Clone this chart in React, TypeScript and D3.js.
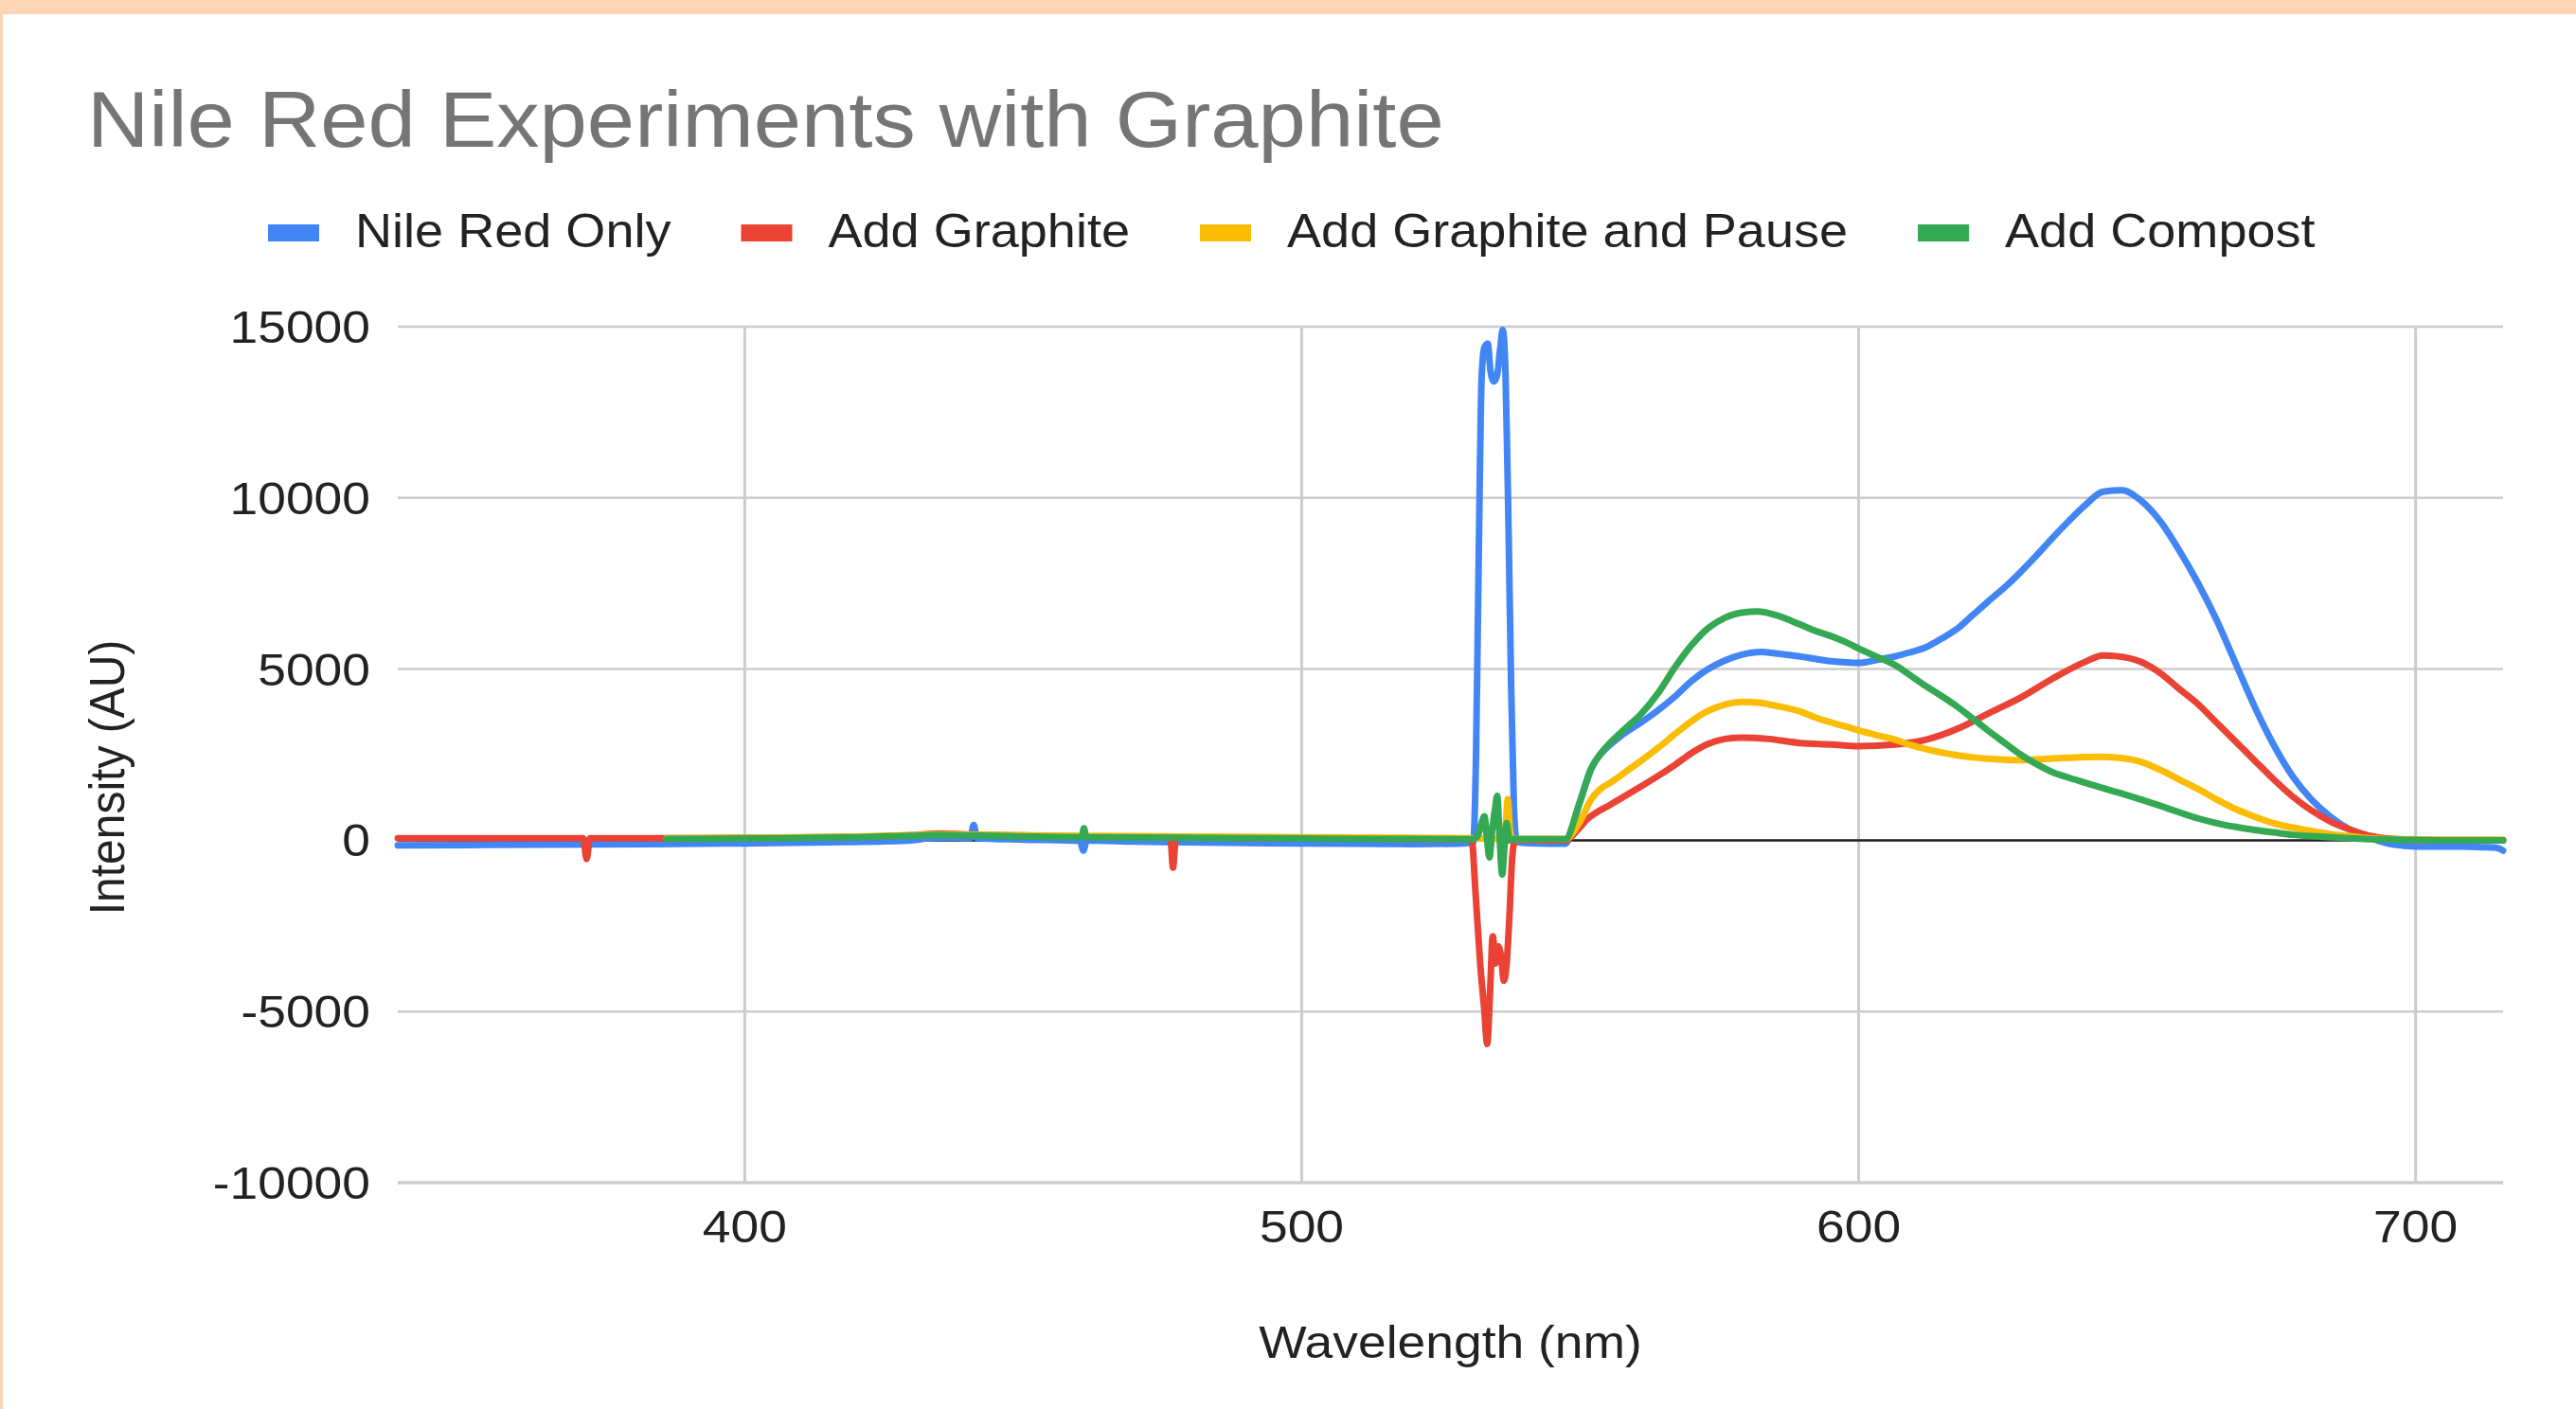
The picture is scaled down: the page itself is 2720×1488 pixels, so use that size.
import React from "react";
import * as d3 from "d3";

// ---------- data (wavelength nm, intensity AU) ----------
const seriesNames = ["Nile Red Only", "Add Graphite", "Add Graphite and Pause", "Add Compost"];
const seriesColors = ["#4285F4", "#EA4335", "#FBBC04", "#34A853"];
const xTickValues = [400, 500, 600, 700];
const yTickValues = [-10000, -5000, 0, 5000, 10000, 15000];
const yDomain = [-10000, 15000];

const nileRedOnly: [number, number][] = [
  [337.7, -150], [350, -140], [372, -120], [400, -90], [418, -50], [430, 0], [433, 60], [436, 80],
  [440.5, 60], [441.1, 450], [441.7, 60], [450, 20], [460.2, -20], [460.8, -300], [461.4, 0], [470, -40],
  [480, -60], [490, -80], [500, -90], [510, -100], [520, -110], [528, -100], [530.8, -50],
  [531.3, 2500], [531.8, 8500], [532.3, 13500], [532.8, 14400], [533.4, 14500], [533.9, 13700],
  [534.5, 13400], [535.1, 13600], [535.6, 14300], [536.1, 14900], [536.6, 13600], [537.1, 9500],
  [537.6, 4500], [538.1, 1000], [538.6, -50], [540, -80], [545, -100], [547.3, -100],
  [549.8, 1050], [552, 2100], [553.7, 2520], [555.4, 2790], [558, 3130], [561, 3450], [564, 3800],
  [567, 4200], [570, 4650], [573, 5000], [576, 5250], [579, 5420], [582.5, 5500],
  [585, 5460], [589.5, 5370], [595.1, 5230], [600, 5180], [603.6, 5280], [606.5, 5370], [609, 5480],
  [612.1, 5640], [615, 5900], [617.8, 6190], [620.5, 6580], [623.5, 7010], [626.5, 7430], [629.1, 7840],
  [632, 8330], [634.8, 8830], [637.7, 9320], [640.5, 9760], [643.9, 10180], [647.3, 10220], [650.7, 9920],
  [654.1, 9330], [657.5, 8480], [660.9, 7520], [664.3, 6420], [667.7, 5160], [671.1, 3900], [674.5, 2790],
  [677.9, 1870], [681.3, 1190], [684.7, 690], [688.1, 320], [691.5, 90], [694.9, -90], [698, -160],
  [700.3, -180], [704, -180], [708.5, -180], [712, -200], [714.5, -220], [715.7, -300],
];

const addGraphite: [number, number][] = [
  [337.7, 60], [350, 60], [360, 60], [371, 60], [371.6, -550], [372.2, 60], [385, 60], [400, 70],
  [420, 100], [430, 150], [435, 200], [440, 170], [450, 140], [460, 110], [470, 100], [476.4, 100],
  [476.9, -800], [477.4, 90], [490, 70], [500, 60], [510, 50], [520, 40], [530.5, 30],
  [531.2, -1500], [532, -3500], [532.8, -5000], [533.3, -5950], [533.8, -4500], [534.3, -2800],
  [534.8, -3600], [535.3, -3100], [535.8, -3400], [536.3, -4100], [536.8, -3600], [537.3, -2200],
  [537.8, -500], [538.3, 0], [540, 10], [545, 0], [547.5, 0],
  [549.5, 300], [551.5, 650], [553, 820], [555, 1000], [558, 1290], [561, 1580], [564, 1880],
  [567, 2200], [570, 2550], [573, 2820], [576, 2960], [579, 3000], [583.8, 2960], [589.5, 2840],
  [595.1, 2800], [600, 2750], [606.5, 2800], [612.1, 2940], [617.8, 3260], [623.5, 3720], [629.1, 4170],
  [634.8, 4720], [640.5, 5200], [643.9, 5400], [646.2, 5380], [650.7, 5210], [654.1, 4890], [657.5, 4430],
  [660.9, 3980], [664.3, 3430], [667.7, 2880], [671.1, 2330], [674.5, 1780], [677.9, 1280], [681.3, 870],
  [684.7, 550], [688.1, 320], [691.5, 140], [694.9, 50], [700, 10], [705, 0], [710, 0], [715.7, 0],
];

const addGraphitePause: [number, number][] = [
  [386, 60], [400, 70], [420, 110], [430, 150], [435, 170], [440, 160], [450, 140], [460, 130],
  [470, 120], [480, 110], [490, 100], [500, 90], [510, 80], [520, 70], [530, 60], [536.3, 40],
  [536.7, 600], [537.0, 1200], [537.4, 300], [537.8, 40], [545, 40], [547.3, 40],
  [549.8, 500], [552, 1200], [553.5, 1480], [555.4, 1680], [558, 1980], [561, 2330], [564, 2700],
  [567, 3100], [570, 3480], [573, 3780], [576, 3960], [579, 4040], [582, 4020], [585, 3930],
  [589.5, 3760], [592, 3600], [595.1, 3440], [597.5, 3330], [600, 3210], [603, 3080],
  [606.5, 2940], [609, 2800], [612.1, 2660], [615, 2560], [617.8, 2480], [620.5, 2420], [623.5, 2380],
  [626.5, 2350], [629.1, 2340], [632, 2360], [634.8, 2390], [637.7, 2410], [640.5, 2430], [643.5, 2440],
  [646.2, 2420], [650.7, 2290], [654.1, 2060], [657.5, 1780], [660.9, 1500], [664.3, 1190], [667.7, 910],
  [671.1, 690], [674.5, 500], [677.9, 370], [681.3, 270], [684.7, 180], [688.1, 120], [691.5, 60],
  [697, 30], [705, 20], [715.7, 20],
];

const addCompost: [number, number][] = [
  [386, 40], [400, 50], [420, 90], [430, 130], [435, 150], [440, 140], [450, 110], [460.5, 90],
  [460.9, 350], [461.3, 90], [470, 80], [480, 70], [490, 60], [500, 50], [510, 40], [520, 40], [530.5, 30],
  [531.5, 100], [532.3, 500], [532.8, 700], [533.3, 0], [533.7, -500], [534.2, 300], [534.7, 900],
  [535.1, 1300], [535.5, 200], [536, -1000], [536.4, -200], [536.8, 500], [537.3, 0], [538, 30],
  [545, 30], [547.3, 30],
  [549.8, 1050], [552, 2100], [553.7, 2540], [555.4, 2850], [558, 3250], [561, 3700], [564, 4300],
  [567, 5050], [570, 5700], [573, 6200], [576, 6500], [579, 6650], [582, 6680], [585, 6580],
  [589.5, 6300], [592, 6130], [595.1, 5960], [597.5, 5800], [600, 5600], [603, 5380],
  [606.5, 5120], [609, 4850], [612.1, 4500], [615, 4200], [617.8, 3890], [620.5, 3550], [623.5, 3170],
  [626.5, 2810], [629.1, 2500], [632, 2220], [634.8, 1990], [637.7, 1830], [640.5, 1690], [643.9, 1520],
  [647.3, 1360], [650.7, 1190], [654.1, 1010], [657.5, 820], [660.9, 640], [664.3, 500], [667.7, 390],
  [671.1, 300], [674.5, 230], [677.9, 160], [681.3, 120], [684.7, 90], [688.1, 60], [692, 30],
  [700, 10], [705, 0], [710, 0], [715.7, 0],
];

const allSeries = [nileRedOnly, addGraphite, addGraphitePause, addCompost];

// ---------- layout ----------
const W = 2720;
const H = 1488;
const plot = { left: 420, right: 2643, top: 345, bottom: 1249 };
const HS = 1.09; // horizontal glyph stretch seen in the reference
const FONT = "'Liberation Sans', Arial, Helvetica, sans-serif";

function measure(text: string, size: number): number {
  if (typeof document === "undefined") return text.length * size * 0.5;
  const c = document.createElement("canvas").getContext("2d");
  if (!c) return text.length * size * 0.5;
  c.font = `${size}px ${FONT}`;
  return c.measureText(text).width * HS;
}

function SText(props: {
  x: number; y: number; size: number; anchor?: string; fill?: string; children: string; rotate?: boolean;
}) {
  const { x, y, size, anchor = "start", fill = "#222", children, rotate } = props;
  return (
    <text
      transform={`translate(${x},${y}) scale(${HS},1)${rotate ? " rotate(-90)" : ""}`}
      fontFamily={FONT}
      fontSize={size}
      textAnchor={anchor}
      fill={fill}
    >
      {children}
    </text>
  );
}

export default function App() {
  const xExtent = d3.extent(allSeries.flat().map((d) => d[0])) as [number, number];
  const x = d3.scaleLinear().domain(xExtent).range([plot.left, plot.right]);
  const y = d3.scaleLinear().domain(yDomain).range([plot.bottom, plot.top]);
  const line = d3
    .line<[number, number]>()
    .x((d) => x(d[0]))
    .y((d) => y(d[1]))
    .curve(d3.curveMonotoneX);

  // legend layout
  const legendSize = 49.6;
  const swW = 54;
  const swH = 18;
  const swGap = 38;
  const itemGap = 74;
  let cursor = 283;
  const legendItems = seriesNames.map((name, i) => {
    const sx = cursor;
    const tx = sx + swW + swGap;
    const tw = measure(name, legendSize);
    cursor = tx + tw + itemGap;
    return { name, color: seriesColors[i], sx, tx };
  });

  return (
    <svg
      width={W}
      height={H}
      viewBox={`0 0 ${W} ${H}`}
      style={{ position: "absolute", left: 0, top: 0, background: "#fff" }}
    >
      <rect x={0} y={0} width={W} height={H} fill="#ffffff" />
      <rect x={0} y={0} width={W} height={15} fill="#FCD5B4" />
      <rect x={0} y={0} width={3} height={H} fill="#FCD5B4" />

      <SText x={92} y={155} size={83} fill="#757575">Nile Red Experiments with Graphite</SText>

      {legendItems.map((it) => (
        <g key={it.name}>
          <rect x={it.sx} y={237} width={swW} height={swH} fill={it.color} />
          <SText x={it.tx} y={261} size={legendSize} fill="#222">{it.name}</SText>
        </g>
      ))}

      {/* gridlines */}
      {yTickValues.map((v) => (
        <line
          key={`gy${v}`}
          x1={plot.left}
          x2={plot.right}
          y1={y(v)}
          y2={y(v)}
          stroke="#cccccc"
          strokeWidth={v === yDomain[0] ? 3.5 : 2.5}
        />
      ))}
      {xTickValues.map((v) => (
        <line key={`gx${v}`} x1={x(v)} x2={x(v)} y1={plot.top} y2={plot.bottom} stroke="#cccccc" strokeWidth={3} />
      ))}
      <line x1={plot.left} x2={plot.right} y1={y(0)} y2={y(0)} stroke="#222" strokeWidth={2.5} />

      {/* series */}
      {allSeries.map((s, i) => (
        <path
          key={seriesNames[i]}
          d={line(s) || ""}
          fill="none"
          stroke={seriesColors[i]}
          strokeWidth={7}
          strokeLinejoin="round"
          strokeLinecap="round"
        />
      ))}

      {/* tick labels */}
      {yTickValues.map((v) => (
        <SText key={`ty${v}`} x={391} y={y(v) + 17} size={49} anchor="end">{String(v)}</SText>
      ))}
      {xTickValues.map((v) => (
        <SText key={`tx${v}`} x={x(v)} y={1312} size={49} anchor="middle">{String(v)}</SText>
      ))}

      <SText x={(plot.left + plot.right) / 2} y={1434} size={49} anchor="middle">Wavelength (nm)</SText>
      <SText x={131} y={821} size={48} anchor="middle" rotate>Intensity (AU)</SText>
    </svg>
  );
}
